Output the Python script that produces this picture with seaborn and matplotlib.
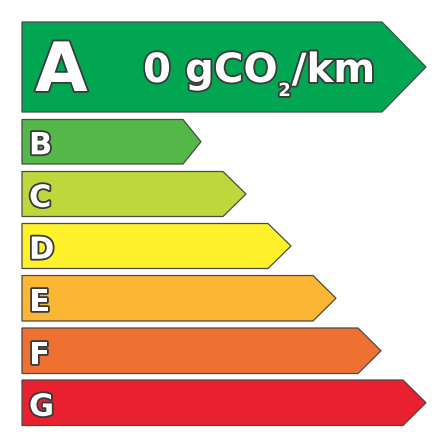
import matplotlib
matplotlib.use("Agg")
import matplotlib.pyplot as plt
import matplotlib.patheffects as pe
import seaborn as sns

# energy classes, top to bottom
classes = ["A", "B", "C", "D", "E", "F", "G"]
colours = ["#00a651", "#53b848", "#bed73b", "#fff12a", "#fbb634", "#ef7131", "#e8202f"]
body_len = [360, 161, 201, 246, 291, 336, 381]   # flat part of each arrow (px)
tip_len = [44, 18, 23, 23, 23, 23, 23]           # pointed end (px)
row_top = [22, 119.5, 171.5, 223.5, 275.5, 328, 380]
row_h = [90, 44.5, 45, 45, 45.5, 45.5, 45.5]
value_parts = ["0 gCO", "2", "/km"]

sns.set_theme(style="white")
plt.rcParams["font.family"] = ["DejaVu Sans"]

fig = plt.figure(figsize=(4.48, 4.48), dpi=100)
ax = fig.add_axes([0, 0, 1, 1])
ax.set_xlim(0, 448)
ax.set_ylim(448, 0)
ax.axis("off")

left = 22
edge = "#4a4a4a"
outline = [pe.withStroke(linewidth=2.6, foreground="#3a3a3a")]

for i, cls in enumerate(classes):
    top = row_top[i]
    bot = top + row_h[i]
    mid = (top + bot) / 2
    x_end = left + body_len[i]
    x_tip = x_end + tip_len[i]
    xs = [left, x_end, x_tip, x_end, left]
    ys = [top, top, mid, bot, bot]
    ax.fill(xs, ys, facecolor=colours[i], edgecolor=edge, linewidth=0.9,
            joinstyle="miter")
    if i == 0:
        ax.text(35, bot - 21, cls, fontsize=49, fontweight="bold", color="white",
                ha="left", va="baseline", path_effects=outline)
    else:
        ax.text(29, bot - 9.7, cls, fontsize=22, fontweight="bold", color="white",
                ha="left", va="baseline", path_effects=outline)

# value label on the A arrow, built from three pieces so the subscript stays small
renderer = fig.canvas.get_renderer()
inv = ax.transData.inverted()
t1 = ax.text(143, 82, value_parts[0], fontsize=29, fontweight="bold", color="white",
             ha="left", va="baseline", path_effects=outline)
x1 = inv.transform(t1.get_window_extent(renderer).get_points())[1][0]
t2 = ax.text(x1 + 1, 96, value_parts[1], fontsize=13, fontweight="bold", color="white",
             ha="left", va="baseline", path_effects=outline)
x2 = inv.transform(t2.get_window_extent(renderer).get_points())[1][0]
ax.text(x2 + 1, 82, value_parts[2], fontsize=29, fontweight="bold", color="white",
        ha="left", va="baseline", path_effects=outline)

fig.savefig("out.png", dpi=100, facecolor="white")
